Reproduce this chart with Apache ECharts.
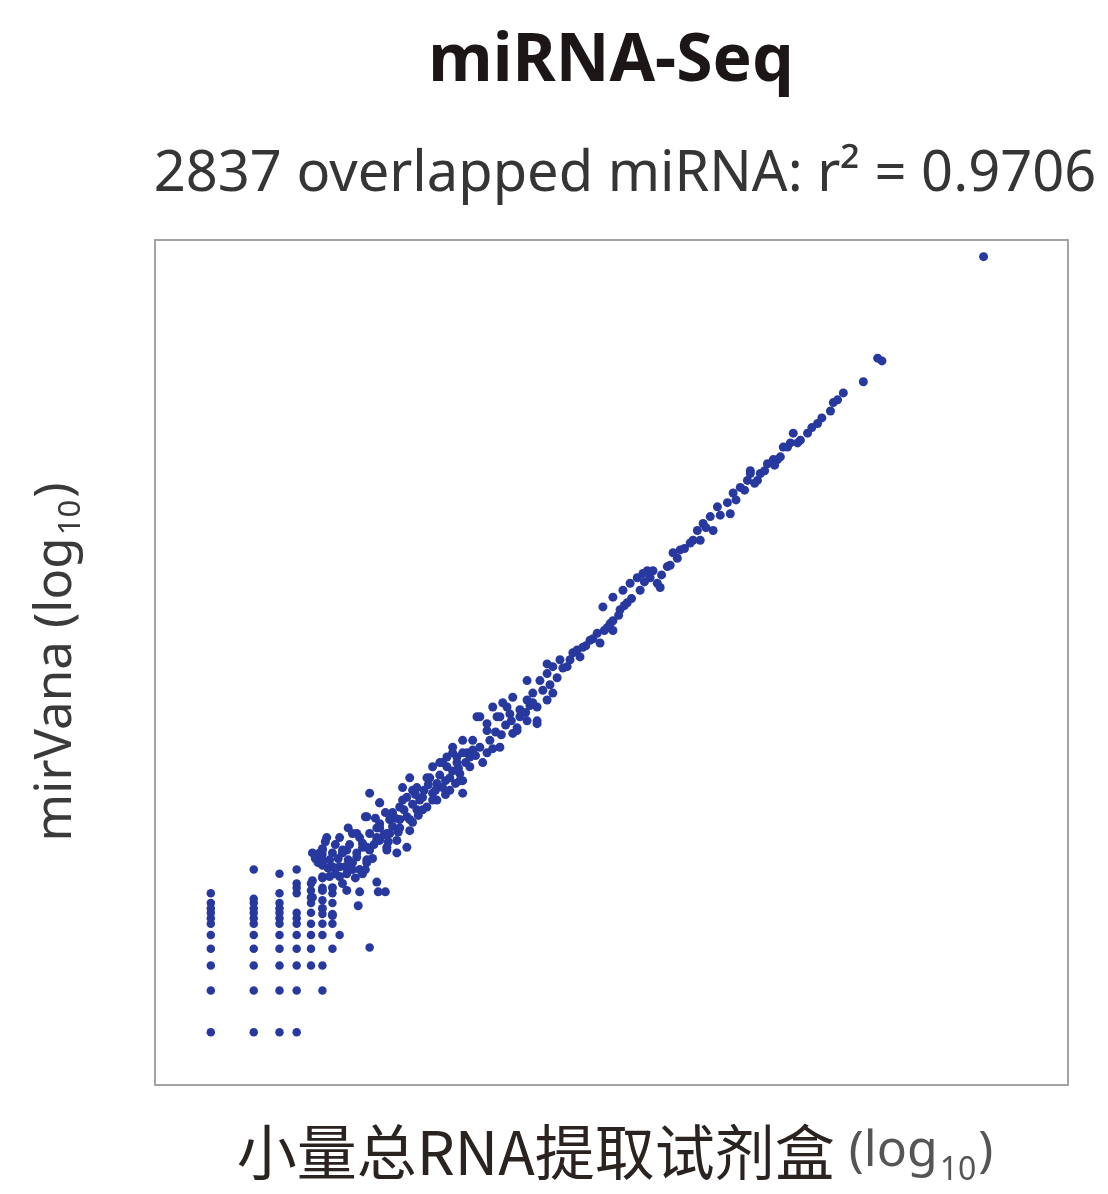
<!DOCTYPE html>
<html><head><meta charset="utf-8">
<script src="https://cdn.jsdelivr.net/npm/echarts@6/dist/echarts.min.js"></script>
<style>html,body{margin:0;padding:0;background:#fff}#chart{width:1108px;height:1194px}</style>
</head><body><div id="chart"></div>
<script>
// ---- text ----
const titleText = 'miRNA-Seq';
const subtitleText = '2837 overlapped miRNA: r\u00B2 = 0.9706';
const xAxisName = '小量总RNA提取试剂盒';
const yAxisName = 'mirVana';
const logUnit = 'log';
const logBase = '10';

// ---- axis ranges (log10 units) ----
const xRange = [-0.39, 5.99];
const yRange = [-0.38, 5.70];

// ---- low-count miRNA (discrete levels), [x, y] in log10 ----
const lowCountPoints = [
  [0,0],[0,0.30],[0,0.48],[0,0.60],[0,0.70],[0,0.78],[0,0.82],[0,0.86],[0,0.89],[0,0.93],[0,1.00],
  [0.30,0],[0.30,0.30],[0.30,0.48],[0.30,0.60],[0.30,0.70],[0.30,0.78],[0.30,0.82],[0.30,0.86],[0.30,0.89],[0.30,0.93],[0.30,0.96],[0.30,1.17],
  [0.48,0],[0.48,0.30],[0.48,0.48],[0.48,0.60],[0.48,0.70],[0.48,0.78],[0.48,0.82],[0.48,0.86],[0.48,0.89],[0.48,0.93],[0.48,1.00],[0.48,1.14],
  [0.60,0],[0.60,0.30],[0.60,0.48],[0.60,0.60],[0.60,0.70],[0.60,0.78],[0.60,0.82],[0.60,0.86],[0.60,1.00],[0.60,1.04],[0.60,1.07],[0.60,1.17],
  [0.70,0.48],[0.70,0.60],[0.70,0.70],[0.70,0.78],[0.70,0.86],[0.70,0.93],[0.70,0.97],[0.70,1.02],[0.70,1.07],
  [0.78,0.30],[0.78,0.48],[0.78,0.70],[0.78,0.78],[0.78,0.85],[0.78,0.95],[0.78,1.04],[0.78,1.12],[0.78,1.20],[0.78,1.28],
  [0.85,0.60],[0.85,0.78],[0.85,0.85],[0.85,0.93],[0.85,1.00],
  [0.90,0.70],[1.11,0.61]
];

// ---- main correlated band, [x, y] in log10 ----
const bandPoints = [
  [0.71,1.29],[0.78,1.32],[0.90,1.40],[0.95,1.31],[1.02,1.26],[1.06,1.36],[1.11,1.43],[1.16,1.47],[1.18,1.38],[1.23,1.33],
  [1.30,1.29],[1.09,1.22],[1.04,1.17],[0.95,1.14],[0.90,1.19],[0.83,1.24],[0.78,1.22],[0.78,1.11],[0.83,1.12],[0.85,1.04],
  [0.92,1.07],[0.95,1.02],[1.04,1.01],[1.16,1.08],[1.17,1.01],[1.22,1.01],[1.03,0.91],[0.71,1.09],[0.71,0.97],[0.78,1.02],
  [0.78,0.89],[0.85,0.84],[0.78,1.31],[0.78,1.24],[0.85,1.19],[0.92,1.29],[0.96,1.24],[0.99,1.17],[0.90,1.12],[1.06,1.14],
  [1.09,1.24],[1.11,1.31],[1.06,1.33],[1.08,1.55],[1.11,1.72],[1.18,1.65],[1.18,1.50],[1.25,1.43],[1.30,1.38],[1.37,1.33],
  [1.23,1.31],[1.16,1.40],[1.27,1.58],[1.32,1.53],[1.37,1.55],[1.39,1.45],[1.34,1.76],[1.41,1.74],[1.46,1.67],[1.44,1.60],
  [1.51,1.62],[1.48,1.69],[1.55,1.72],[1.58,1.79],[1.53,1.83],[1.62,1.76],[1.67,1.83],[1.65,1.91],[1.72,1.94],[1.74,1.86],
  [1.76,1.81],[1.72,1.98],[1.76,2.01],[1.83,2.03],[1.88,2.05],[1.90,1.94],[1.76,1.72],[1.02,1.43],
  [1.65,1.98],[1.69,2.05],[1.76,2.10],[1.79,2.01],[1.86,2.27],[1.93,2.22],[2.00,2.27],[1.97,2.34],[2.04,2.37],[2.09,2.29],
  [2.14,2.19],[2.16,2.27],[2.11,2.41],[2.21,2.39],[2.25,2.44],[2.28,2.34],[2.28,2.22],[2.21,2.53],[2.30,2.53],[2.35,2.39],
  [2.35,2.58],[2.39,2.63],[2.44,2.68],[2.49,2.63],[2.53,2.73],[2.58,2.70],[2.60,2.77],[2.65,2.82],[2.72,2.80],[2.70,2.87],
  [2.77,2.91],[2.81,2.96],[2.81,2.89],[2.86,3.04],[2.91,3.09],[1.60,1.94],
  [2.74,3.06],[2.81,3.13],[2.88,3.18],[2.93,3.23],[2.98,3.27],[3.02,3.30],[3.07,3.27],[3.09,3.32],[3.12,3.23],[3.14,3.20],
  [3.05,3.32],[3.19,3.35],[3.23,3.45],[3.28,3.47],[3.35,3.52],[3.42,3.54],[3.40,3.61],[3.44,3.66],[3.49,3.71],[3.51,3.61],
  [3.54,3.78],[3.61,3.81],[3.63,3.73],[3.65,3.88],[3.70,3.92],[3.75,3.97],[3.82,3.97],[3.84,4.02],[3.77,4.02],[3.89,4.09],
  [3.93,4.12],[3.98,4.14],[4.00,4.21],[4.05,4.24],[4.07,4.31],
  [3.77,4.04],[3.96,4.12],[4.03,4.21],[4.10,4.24],[4.17,4.31],[4.24,4.38],[4.33,4.47],[4.35,4.53],[4.42,4.60],[4.56,4.68],
  [4.66,4.85],[4.69,4.83],[5.40,5.58],
  [2.35,2.65],[2.25,2.37],[2.28,2.24],[2.14,2.17],[2.07,2.34],[2.02,2.27],[1.93,2.17],[1.88,2.27],[1.83,2.10],[1.69,2.01],
  [1.62,1.94],[1.55,1.91],[1.51,1.83],[1.44,1.76],[1.39,1.83],[1.37,1.69],[1.32,1.62],[1.25,1.53],[1.18,1.47],[1.18,1.65],
  [1.09,1.55],[0.99,1.43],[0.92,1.31],[0.81,1.40],[0.85,1.29],[0.76,1.29],[1.02,1.29],[1.09,1.33],[1.16,1.38],[1.23,1.43],
  [1.32,1.47],[1.39,1.53],[1.48,1.60],[1.58,1.67],[1.67,1.74],[1.74,1.81],[1.81,1.91],[1.93,2.01],[2.02,2.05],[2.11,2.15],
  [2.21,2.24],[2.39,2.44],
  [0.73,1.25],[0.80,1.37],[0.87,1.35],[0.89,1.25],[0.97,1.35],[0.99,1.22],[0.94,1.19],[0.87,1.14],[0.82,1.18],[0.75,1.22],
  [1.01,1.11],[1.08,1.17],[1.13,1.25],[1.14,1.35],[1.04,1.40],[0.96,1.47],
  [1.21,1.42],[1.27,1.48],[1.29,1.54],[1.35,1.60],[1.22,1.58],[1.15,1.54],[1.24,1.37],[1.31,1.44],[1.41,1.51],[1.45,1.56],
  [1.34,1.67],[1.41,1.64],[1.49,1.74],[1.43,1.71],
  [1.52,1.78],[1.57,1.74],[1.60,1.85],[1.64,1.81],[1.69,1.88],[1.73,1.90],[1.78,1.94],[1.81,1.98],[1.85,1.99],[1.71,1.79],
  [1.64,1.71],[1.55,1.67],
  [1.95,2.10],[1.99,2.16],[2.06,2.21],[2.10,2.24],[2.16,2.32],[2.20,2.30],[2.23,2.35],[2.32,2.46],[2.37,2.50],[2.42,2.55],
  [2.03,2.14],[1.97,2.04],
  [2.46,2.62],[2.51,2.68],[2.56,2.75],[2.62,2.78],[2.67,2.83],[2.75,2.89],[2.79,2.94],[2.85,3.00],[2.89,3.07],[2.94,3.12],
  [3.00,3.18],[3.03,3.24],
  [3.15,3.29],[3.21,3.36],[3.26,3.41],[3.31,3.48],[3.37,3.54],[3.46,3.63],[3.56,3.72],[3.67,3.83],[3.73,3.90],[3.80,3.95],
  [3.87,4.04],[3.94,4.08],[4.12,4.26],[4.20,4.35],[4.27,4.42],[4.38,4.55]
];

const dotColor = '#27389f';
const chart = echarts.init(document.getElementById('chart'), null, {renderer: 'canvas'});
const latin = '"Noto Sans", "DejaVu Sans", sans-serif';
const cjk = '"Noto Sans CJK SC", "Noto Sans", sans-serif';

chart.setOption({
  animation: false,
  backgroundColor: '#ffffff',
  grid: {left: 155, top: 240, width: 913, height: 845, show: true, borderColor: '#a3a3a3', borderWidth: 2, backgroundColor: '#ffffff'},
  xAxis: {type: 'value', min: xRange[0], max: xRange[1], axisLine: {show: false}, axisTick: {show: false}, axisLabel: {show: false}, splitLine: {show: false}},
  yAxis: {type: 'value', min: yRange[0], max: yRange[1], axisLine: {show: false}, axisTick: {show: false}, axisLabel: {show: false}, splitLine: {show: false}},
  series: [
    {type: 'scatter', data: lowCountPoints, symbolSize: 8.5, itemStyle: {color: dotColor, opacity: 1}, silent: true},
    {type: 'scatter', data: bandPoints, symbolSize: 9, itemStyle: {color: dotColor, opacity: 1}, silent: true}
  ],
  graphic: [
    {type: 'text', x: 611, y: 62, style: {text: titleText, font: 'bold 66px ' + latin, fill: '#1c1616', align: 'center', verticalAlign: 'middle'}},
    {type: 'text', x: 625, y: 175, style: {text: subtitleText, font: '56px ' + latin, fill: '#353535', align: 'center', verticalAlign: 'middle'}},
    {type: 'text', x: 615, y: 1152, style: {
      text: '{cn|' + xAxisName + '}{p|(' + logUnit + '}{s|' + logBase + '}{p|)}',
      align: 'center', verticalAlign: 'middle',
      rich: {
        cn: {font: '60px ' + cjk, fill: '#2a2320', lineHeight: 70, padding: [0, 14, 0, 0]},
        p: {font: '50px ' + latin, fill: '#555555', lineHeight: 70},
        s: {font: '32px ' + latin, fill: '#555555', lineHeight: 70, verticalAlign: 'bottom', padding: [0, 2, 0, 2]}
      }
    }},
    {type: 'text', x: 56, y: 662, rotation: Math.PI / 2, style: {
      text: '{m|' + yAxisName + ' (' + logUnit + '}{s|' + logBase + '}{m|)}',
      align: 'center', verticalAlign: 'middle',
      rich: {
        m: {font: '51px ' + latin, fill: '#3a3a3a', lineHeight: 62},
        s: {font: '31px ' + latin, fill: '#3a3a3a', lineHeight: 62, verticalAlign: 'bottom', padding: [0, 2, 0, 2]}
      }
    }}
  ]
});
</script></body></html>
